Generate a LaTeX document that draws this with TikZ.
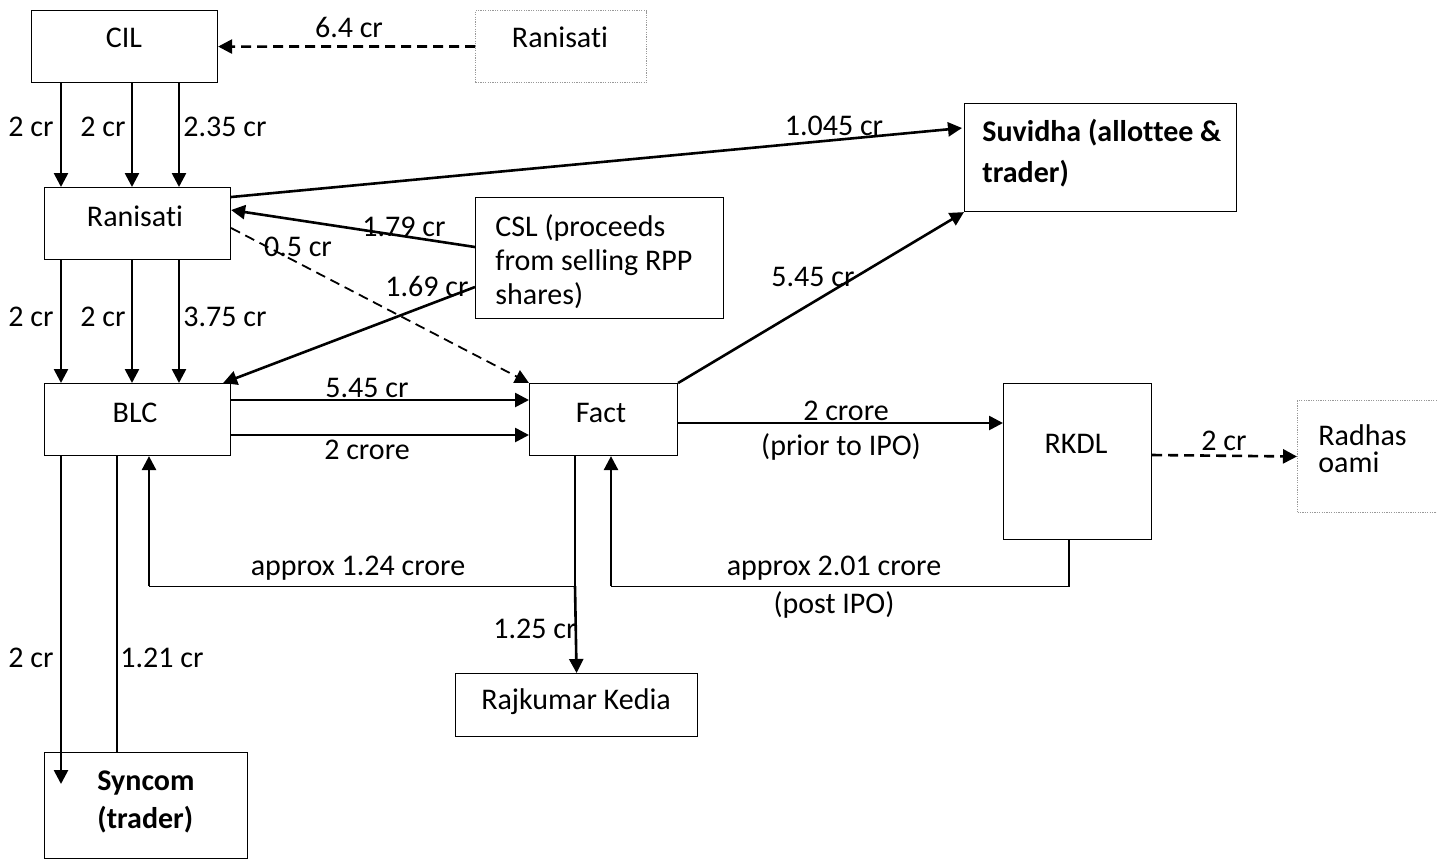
\documentclass[tikz,border=0pt]{standalone}
\usepackage{fontspec}
\setmainfont{Carlito}[Ligatures=NoCommon]
\usetikzlibrary{arrows.meta,calc}
\begin{document}
\begin{tikzpicture}[x=0.5pt,y=-0.5pt,
  box/.style={draw,line width=0.55pt,inner sep=0pt,anchor=north west},
  dotbox/.style={draw=gray!80,line width=0.5pt,dash pattern=on 0.6pt off 0.6pt,inner sep=0pt,anchor=north west},
  lbl/.style={anchor=base,inner sep=0pt,font=\fontsize{15}{18}\selectfont},
  lbll/.style={anchor=base west,inner sep=0pt,font=\fontsize{15}{18}\selectfont},
  blbl/.style={anchor=base west,inner sep=0pt,font=\fontsize{15}{18}\selectfont\bfseries},
  arr/.style={line width=1.3pt,-{Triangle[length=7pt,width=7pt]}},
  darr/.style={line width=1.3pt,dash pattern=on 5pt off 3pt,-{Triangle[length=7pt,width=7pt]}},
  tdarr/.style={line width=0.9pt,dash pattern=on 5pt off 3pt,-{Triangle[length=7pt,width=7pt]}},
  thinl/.style={line width=0.6pt},
  midl/.style={line width=0.9pt}]
\clip (0,0) rectangle (1437,859);
\fill[white] (0,0) rectangle (1437,859);
% boxes
\node[box,minimum width=93pt,minimum height=36pt] (cil) at (31,10) {};
\node[dotbox,minimum width=85.5pt,minimum height=36pt] (rtop) at (475,10) {};
\node[box,minimum width=93pt,minimum height=36pt] (ran) at (44,187) {};
\node[box,minimum width=93pt,minimum height=36pt] (blc) at (44,383) {};
\node[box,minimum width=74pt,minimum height=36pt] (fact) at (529,383) {};
\node[box,minimum width=124pt,minimum height=60.5pt] (csl) at (475,197) {};
\node[box,minimum width=136pt,minimum height=54pt] (suv) at (964,103) {};
\node[box,minimum width=74pt,minimum height=78pt] (rkdl) at (1003,383) {};
\node[dotbox,minimum width=80pt,minimum height=56pt] (rad) at (1297,400) {};
\node[box,minimum width=121pt,minimum height=31.5pt] (raj) at (455,673) {};
\node[box,minimum width=101.5pt,minimum height=53pt] (syn) at (44,752) {};
% box texts
\node[lbl] (tcil) at (124,47) {CIL};
\node[lbl] (trtop) at (560,47) {Ranisati};
\node[lbl] (tran) at (135,226) {Ranisati};
\node[lbl] (tblc) at (135,422) {BLC};
\node[lbl] (tfact) at (601,422) {Fact};
\node[lbll] (tcsl1) at (495,236) {CSL (proceeds};
\node[lbll] (tcsl2) at (495,270) {from selling RPP};
\node[lbll] (tcsl3) at (495,304) {shares)};
\node[blbl] (tsuv1) at (982,141) {Suvidha (allottee \&};
\node[blbl] (tsuv2) at (982,182) {trader)};
\node[lbl] (trkdl) at (1076,453) {RKDL};
\node[lbll] (trad1) at (1318,445) {Radhas};
\node[lbll] (trad2) at (1318,472) {oami};
\node[lbl] (traj) at (576,709) {Rajkumar Kedia};
\node[blbl] (tsyn1) at (97,790) {Syncom};
\node[blbl] (tsyn2) at (97,828) {(trader)};
% connectors
\draw[darr] (rtop.west) -- (cil.east);
\draw[arr] ($(cil.south west)+(30,0)$) -- ($(ran.north west)+(17,0)$);
\draw[arr] ($(cil.south west)+(101,0)$) -- ($(ran.north west)+(88,0)$);
\draw[arr] ($(cil.south west)+(148,0)$) -- ($(ran.north west)+(135,0)$);
\draw[arr] ($(ran.south west)+(17,0)$) -- ($(blc.north west)+(17,0)$);
\draw[arr] ($(ran.south west)+(88,0)$) -- ($(blc.north west)+(88,0)$);
\draw[arr] ($(ran.south west)+(135,0)$) -- ($(blc.north west)+(135,0)$);
\draw[arr] ($(ran.north east)+(0,10)$) -- ($(suv.north west)+(-2,25)$);
\draw[arr] ($(csl.north west)+(0,50)$) -- ($(ran.north east)+(0,23)$);
\draw[arr] ($(csl.north west)+(0,90)$) -- ($(blc.north east)+(-8,0)$);
\draw[tdarr] ($(ran.north east)+(0,41)$) -- ($(fact.north west)+(0,0)$);
\draw[arr] ($(blc.north east)+(0,17)$) -- ($(fact.north west)+(0,17)$);
\draw[arr] ($(blc.north east)+(0,52)$) -- ($(fact.north west)+(0,52)$);
\draw[arr] (fact.north east) -- (suv.south west);
\draw[arr] ($(fact.north east)+(0,40)$) -- ($(rkdl.north west)+(0,40)$);
\draw[darr] ($(rkdl.north east)+(0,72)$) -- (rad.west);
% return from RKDL to Fact
\coordinate (c1) at ($(fact.south west)+(82,130)$);
\draw[thinl] ($(rkdl.south west)+(66,0)$) |- (c1);
\draw[arr] (c1) -- ($(fact.south west)+(82,0)$);
% Fact to Rajkumar and BLC
\coordinate (j) at ($(fact.south west)+(46,130)$);
\coordinate (c2) at ($(blc.south west)+(105,130)$);
\draw[thinl] ($(fact.south west)+(46,0)$) -- (j);
\draw[arr] (j) -- (raj.north);
\draw[thinl] (j) -- (c2);
\draw[arr] (c2) -- ($(blc.south west)+(105,0)$);
% BLC and Syncom
\draw[arr] ($(blc.south west)+(17,0)$) -- ($(syn.north west)+(17,32)$);
\draw[midl] ($(syn.north west)+(73,0)$) -- ($(blc.south west)+(73,0)$);
% labels
\node[lbl] (l64) at (349,37) {6.4 cr};
\node[lbl] (la1) at (31,136) {2 cr};
\node[lbl] (la2) at (103,136) {2 cr};
\node[lbl] (la3) at (225,136) {2.35 cr};
\node[lbl] (lb1) at (31,326) {2 cr};
\node[lbl] (lb2) at (103,326) {2 cr};
\node[lbl] (lb3) at (225,326) {3.75 cr};
\node[lbl] (l1045) at (834,135) {1.045 cr};
\node[lbl] (l179) at (404,236) {1.79 cr};
\node[lbl] (l169) at (427,296) {1.69 cr};
\node[lbl] (l05) at (298,256) {0.5 cr};
\node[lbl] (l545a) at (367,397) {5.45 cr};
\node[lbl] (l2c) at (367,459) {2 crore};
\node[lbl] (l545b) at (813,286) {5.45 cr};
\node[lbl] (l2cb) at (846,420) {2 crore};
\node[lbl] (lprior) at (841,455) {(prior to IPO)};
\node[lbl] (l2cr) at (1224,450) {2 cr};
\node[lbl] (l201) at (834,575) {approx 2.01 crore};
\node[lbl] (lpost) at (834,613) {(post IPO)};
\node[lbl] (l124) at (358,575) {approx 1.24 crore};
\node[lbl] (l125) at (535,638) {1.25 cr};
\node[lbl] (lsyn1) at (31,667) {2 cr};
\node[lbl] (lsyn2) at (162,667) {1.21 cr};
\end{tikzpicture}
\end{document}
